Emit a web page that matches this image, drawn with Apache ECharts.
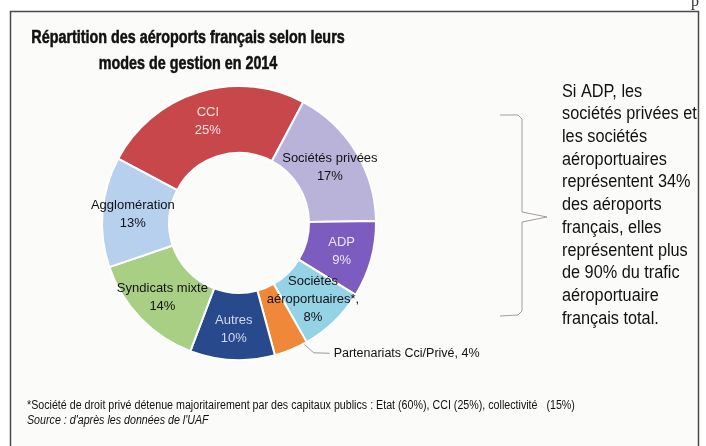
<!DOCTYPE html>
<html>
<head>
<meta charset="utf-8">
<script src="https://cdn.jsdelivr.net/npm/echarts@6/dist/echarts.min.js"></script>
<style>
html,body{margin:0;padding:0;background:#ffffff;}
#chart{width:706px;height:446px;}
</style>
</head>
<body>
<div id="chart"></div>
<script>
const categories = ['CCI', 'Sociétés privées', 'ADP', 'Sociétés aéroportuaires*,', 'Partenariats Cci/Privé', 'Autres', 'Syndicats mixte', 'Agglomération'];
const labelNames = ['CCI', 'Sociétés privées', 'ADP', 'Sociétés\naéroportuaires*,', 'Partenariats Cci/Privé', 'Autres', 'Syndicats mixte', 'Agglomération'];
const values = [25, 17, 9, 8, 4, 10, 14, 13];
const sliceColors = ['#c8474a', '#b9b3da', '#7c5cbf', '#94d2e6', '#f0883a', '#284a8c', '#a9cf85', '#b6d0ee'];
const labelColors = ['#f6e2e2', '#111111', '#ece4fa', '#111111', '#111111', '#cfd9ef', '#111111', '#111111'];
const titleText = 'Répartition des aéroports français selon leurs\nmodes de gestion en 2014';
const sideLines = ['Si ADP, les', 'sociétés privées et', 'les sociétés', 'aéroportuaires', 'représentent 34%', 'des aéroports', 'français, elles', 'représentent plus', 'de 90% du trafic', 'aéroportuaire', 'français total.'];
const footnote = '*Société de droit privé détenue majoritairement par des capitaux publics : Etat (60%), CCI (25%), collectivité   (15%)';
const sourceText = "Source : d'après les données de l'UAF";

const SANS = "'Liberation Sans', Arial, sans-serif";
const CX = 239, CY = 223, R_IN = 70, R_OUT = 137, START = 152;

const chart = echarts.init(document.getElementById('chart'), null, {renderer: 'canvas'});

// point on the outer edge of a slice, at a fraction of its sweep
function edgePoint(idx, frac) {
  const total = values.reduce((a, b) => a + b, 0);
  let before = 0;
  for (let i = 0; i < idx; i++) before += values[i];
  const f = (before + values[idx] * frac) / total;
  const ang = (START - f * 360) * Math.PI / 180;
  return [CX + R_OUT * Math.cos(ang), CY - R_OUT * Math.sin(ang)];
}

const pieData = categories.map((c, i) => {
  const item = {
    name: labelNames[i],
    value: values[i],
    itemStyle: {color: sliceColors[i]},
    label: {color: labelColors[i]}
  };
  if (i === 4) {
    item.label = {
      show: true, position: 'outside', color: '#111111',
      formatter: '{b}, {c}%', fontSize: 12.5, fontFamily: SANS
    };
    item.labelLine = {show: true, length: 6, length2: 8, lineStyle: {color: '#9a9a9a', width: 1}};
  }
  return item;
});

const option = {
  backgroundColor: '#ffffff',
  animation: false,
  graphic: [
    {type: 'rect', z: -10, shape: {x: 10.5, y: 11.5, width: 688, height: 460},
      style: {fill: '#fbfbfa', stroke: '#4a4a4a', lineWidth: 1.5}},
    {type: 'text', x: 691, y: -6, style: {text: 'p', fontFamily: "'Liberation Serif', serif", fontSize: 16, fill: '#333'}},
    {type: 'text', x: 188, y: 25, scaleX: 0.82,
      style: {text: titleText, align: 'center', fontFamily: SANS, fontWeight: 'bold', fontSize: 17.5, lineHeight: 26,
        fill: '#111111', stroke: '#111111', lineWidth: 0.5}},
    {type: 'polyline', shape: {points: [[500, 115], [518, 115], [522, 119], [522, 212], [547, 217], [522, 222], [522, 311], [518, 315], [500, 316]]},
      style: {stroke: '#a49d9d', lineWidth: 1, fill: null}},
    {type: 'text', x: 562, y: 80.5, scaleX: 0.93,
      style: {text: sideLines.join('\n'), fontFamily: SANS, fontSize: 17.5, lineHeight: 22.7, fill: '#111111'}},
    {type: 'text', x: 27, y: 400, scaleX: 0.89,
      style: {text: footnote, fontFamily: SANS, fontSize: 12, fill: '#111111'}},
    {type: 'text', x: 27, y: 415, scaleX: 0.89,
      style: {text: sourceText, fontFamily: SANS, fontSize: 12, fontStyle: 'italic', fill: '#111111'}}
  ],
  series: [{
    type: 'pie',
    center: [CX, CY],
    radius: [R_IN, R_OUT],
    startAngle: START,
    clockwise: true,
    avoidLabelOverlap: false,
    itemStyle: {borderColor: '#ffffff', borderWidth: 2},
    label: {
      show: true, position: 'inside',
      formatter: '{b}\n{c}%',
      fontFamily: SANS, fontSize: 13, lineHeight: 18
    },
    labelLine: {show: false},
    labelLayout: function (params) {
      if (params.dataIndex === 4) {
        const p0 = edgePoint(4, 0.1);
        const p1 = [p0[0] + 10, p0[1] + 9];
        const p2 = [p1[0] + 16, p1[1] + 0.5];
        return {x: p2[0] + 4, y: p2[1], align: 'left', verticalAlign: 'middle', labelLinePoints: [p0, p1, p2]};
      }
      return {};
    },
    emphasis: {disabled: true},
    data: pieData
  }]
};
chart.setOption(option);
</script>
</body>
</html>
